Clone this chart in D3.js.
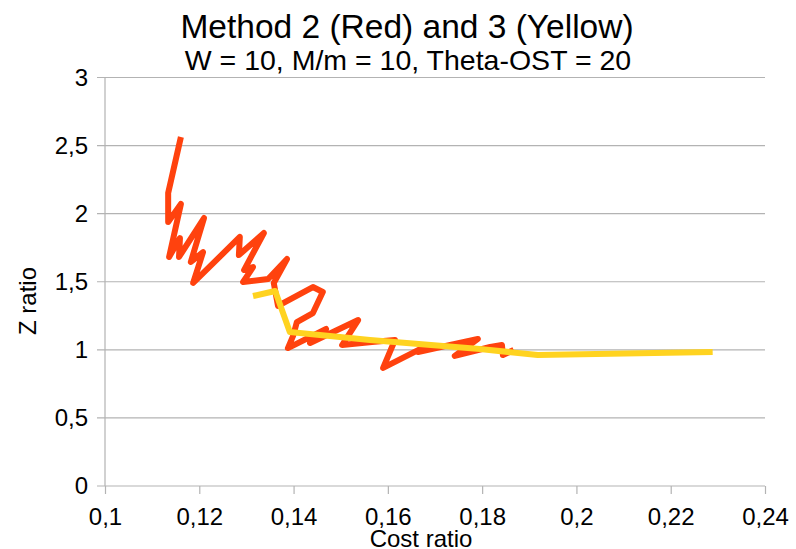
<!DOCTYPE html>
<html>
<head>
<meta charset="utf-8">
<script src="https://cdn.jsdelivr.net/npm/d3@7"></script>
<style>
  body { margin: 0; background: #fff; }
  text { font-family: "Liberation Sans", Arial, sans-serif; fill: #000; }
</style>
</head>
<body>
<div id="chart"></div>
<script>
var width = 796,
    height = 549;

var title = "Method 2 (Red) and 3 (Yellow)";
var subtitle = "W = 10, M/m = 10, Theta-OST = 20";

// Method 2 (red) - cost ratio / z ratio
var redCost = [0.1161, 0.1134, 0.1134, 0.1161, 0.1136, 0.1159, 0.1157, 0.1210, 0.1182, 0.1208,
               0.1187, 0.1286, 0.1284, 0.1337, 0.1295, 0.1314, 0.1293, 0.1346, 0.1386, 0.1358,
               0.1367, 0.1441, 0.1462, 0.1441, 0.1407, 0.1399, 0.1388, 0.1469, 0.1435, 0.1537,
               0.1503, 0.1566, 0.1615, 0.1590, 0.1685, 0.1664, 0.1791, 0.1742, 0.1817, 0.1842,
               0.1844, 0.1867];
var redZ = [2.563, 2.152, 1.939, 2.071, 1.682, 1.821, 1.682, 1.968, 1.645, 1.718,
            1.491, 1.829, 1.696, 1.858, 1.586, 1.608, 1.498, 1.520, 1.667, 1.491,
            1.322, 1.461, 1.425, 1.270, 1.204, 1.102, 1.013, 1.153, 1.050, 1.219,
            1.035, 1.058, 1.072, 0.867, 1.035, 0.984, 1.080, 0.955, 1.021, 1.035,
            0.962, 0.999];

// Method 3 (yellow)
var yelCost = [0.1314, 0.1361, 0.1392, 0.1562, 0.1795, 0.1918, 0.2289];
var yelZ = [1.395, 1.432, 1.131, 1.072, 1.006, 0.962, 0.984];

var xTicks = [0.1, 0.12, 0.14, 0.16, 0.18, 0.2, 0.22, 0.24];
var yTicks = [0, 0.5, 1, 1.5, 2, 2.5, 3];

var margin = {left: 105, right: 31, top: 77.5, bottom: 63};

var fmt = function(d) { return String(d).replace(".", ","); };

var svg = d3.select("#chart").append("svg")
    .attr("width", width)
    .attr("height", height);

var x = d3.scaleLinear()
    .domain([0.1, 0.24])
    .range([margin.left, width - margin.right]);

var y = d3.scaleLinear()
    .domain([0, 3])
    .range([height - margin.bottom, margin.top]);

// TITLES
svg.append("text")
    .attr("x", 407)
    .attr("y", 38)
    .attr("text-anchor", "middle")
    .attr("font-size", 33.5)
    .text(title);

svg.append("text")
    .attr("x", 408)
    .attr("y", 70)
    .attr("text-anchor", "middle")
    .attr("font-size", 28.5)
    .text(subtitle);

// GRID
svg.append("g")
    .attr("class", "grid")
    .selectAll("line")
    .data(yTicks)
    .enter()
    .append("line")
    .attr("x1", x(0.1) - 8)
    .attr("x2", x(0.24))
    .attr("y1", function(d) { return y(d); })
    .attr("y2", function(d) { return y(d); })
    .attr("stroke", "#b3b3b3")
    .attr("stroke-width", 1.2);

// Y axis line
svg.append("line")
    .attr("x1", x(0.1)).attr("x2", x(0.1))
    .attr("y1", y(3)).attr("y2", y(0))
    .attr("stroke", "#b3b3b3")
    .attr("stroke-width", 1.2);

// X axis
var xAxis = svg.append("g")
    .attr("transform", "translate(0," + y(0) + ")")
    .call(d3.axisBottom(x).tickValues(xTicks).tickFormat(fmt).tickSize(8).tickPadding(14));
xAxis.select(".domain").remove();
xAxis.selectAll(".tick line").attr("stroke", "#b3b3b3").attr("stroke-width", 1.2);
xAxis.selectAll("text")
    .attr("font-size", 24)
    .attr("font-family", "Liberation Sans, Arial, sans-serif")
    .attr("fill", "#000");

// Y axis labels
var yAxis = svg.append("g")
    .attr("transform", "translate(" + x(0.1) + ",0)")
    .call(d3.axisLeft(y).tickValues(yTicks).tickFormat(fmt).tickSize(0).tickPadding(17));
yAxis.select(".domain").remove();
yAxis.selectAll("text")
    .attr("font-size", 24)
    .attr("font-family", "Liberation Sans, Arial, sans-serif")
    .attr("fill", "#000");

// axis titles
svg.append("text")
    .attr("x", 421)
    .attr("y", 547)
    .attr("text-anchor", "middle")
    .attr("font-size", 24)
    .text("Cost ratio");

svg.append("text")
    .attr("transform", "translate(36,301) rotate(-90)")
    .attr("text-anchor", "middle")
    .attr("font-size", 24)
    .text("Z ratio");

// LINES
var line = d3.line()
    .x(function(d) { return x(d[0]); })
    .y(function(d) { return y(d[1]); });

var redPts = d3.zip(redCost, redZ);
var yelPts = d3.zip(yelCost, yelZ);

svg.append("path")
    .datum(redPts)
    .attr("d", line)
    .attr("fill", "none")
    .attr("stroke", "#ff420e")
    .attr("stroke-width", 6)
    .attr("stroke-linejoin", "round");

svg.append("path")
    .datum(yelPts)
    .attr("d", line)
    .attr("fill", "none")
    .attr("stroke", "#ffd320")
    .attr("stroke-width", 6)
    .attr("stroke-linejoin", "round");
</script>
</body>
</html>
